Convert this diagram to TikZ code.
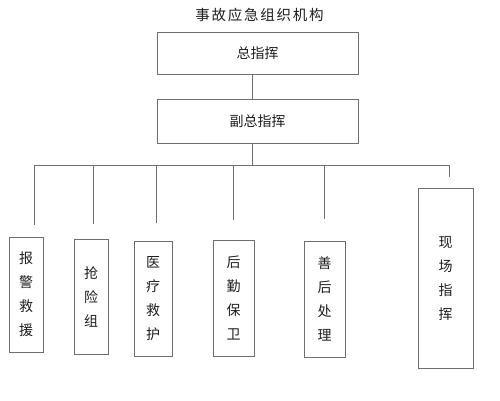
\documentclass[tikz,border=0pt]{standalone}
\usepackage{fontspec}
\newfontfamily\cjk{Noto Sans CJK SC}
\newfontfamily\cjktitel[LetterSpace=12]{Noto Sans CJK SC}
\usepackage{xcolor}
\definecolor{grau}{RGB}{110,110,110}
\definecolor{schrift}{RGB}{30,30,30}

\begin{document}
\begin{tikzpicture}[x=1pt, y=-1pt,
    kasten/.style={draw=grau, line width=0.9pt, inner sep=0pt, text=schrift, align=center, font=\cjk\fontsize{14}{24}\selectfont},
    linie/.style={draw=grau, line width=0.9pt}]
    \useasboundingbox[fill=white] (0,0) rectangle (500,400);

    % Titel
    \node[text=schrift, font=\cjktitel\fontsize{14.5}{18}\selectfont] (titel) at (259.5,15) {事故应急组织机构};

    % Leitung
    \node[kasten, minimum width=201, minimum height=42] (zong) at (257.5,53) {总指挥};
    \node[kasten, minimum width=201, minimum height=44] (fu) at (257.5,121) {副总指挥};

    % Gruppen
    \node[kasten, minimum width=34, minimum height=115] (baojing) at (26,294.5) {报\\警\\救\\援};
    \node[kasten, minimum width=34, minimum height=115] (qiangxian) at (91,296.5) {抢\\险\\组};
    \node[kasten, minimum width=38, minimum height=115] (yiliao) at (153,298.5) {医\\疗\\救\\护};
    \node[kasten, minimum width=41, minimum height=116] (houqin) at (233.5,298) {后\\勤\\保\\卫};
    \node[kasten, minimum width=41, minimum height=116] (shanhou) at (324.5,299) {善\\后\\处\\理};
    \node[kasten, minimum width=55, minimum height=180] (xianchang) at (445.5,278) {现\\场\\指\\挥};

    % Verteiler und Enden der Linien
    \coordinate (verteiler) at (252,165);
    \coordinate (d1) at (34,225);
    \coordinate (d2) at (93,224);
    \coordinate (d3) at (156,223);
    \coordinate (d4) at (233,220);
    \coordinate (d5) at (324,219);
    \coordinate (d6) at (449,177);

    % Verbindungen
    \draw[linie] (zong.south -| verteiler) -- (fu.north -| verteiler);
    \draw[linie] (fu.south -| verteiler) -- (verteiler);
    \draw[linie] (d1 |- verteiler) -- (d6 |- verteiler);
    \draw[linie] (d1 |- verteiler) -- (d1);
    \draw[linie] (d2 |- verteiler) -- (d2);
    \draw[linie] (d3 |- verteiler) -- (d3);
    \draw[linie] (d4 |- verteiler) -- (d4);
    \draw[linie] (d5 |- verteiler) -- (d5);
    \draw[linie] (d6 |- verteiler) -- (d6);
\end{tikzpicture}
\end{document}
